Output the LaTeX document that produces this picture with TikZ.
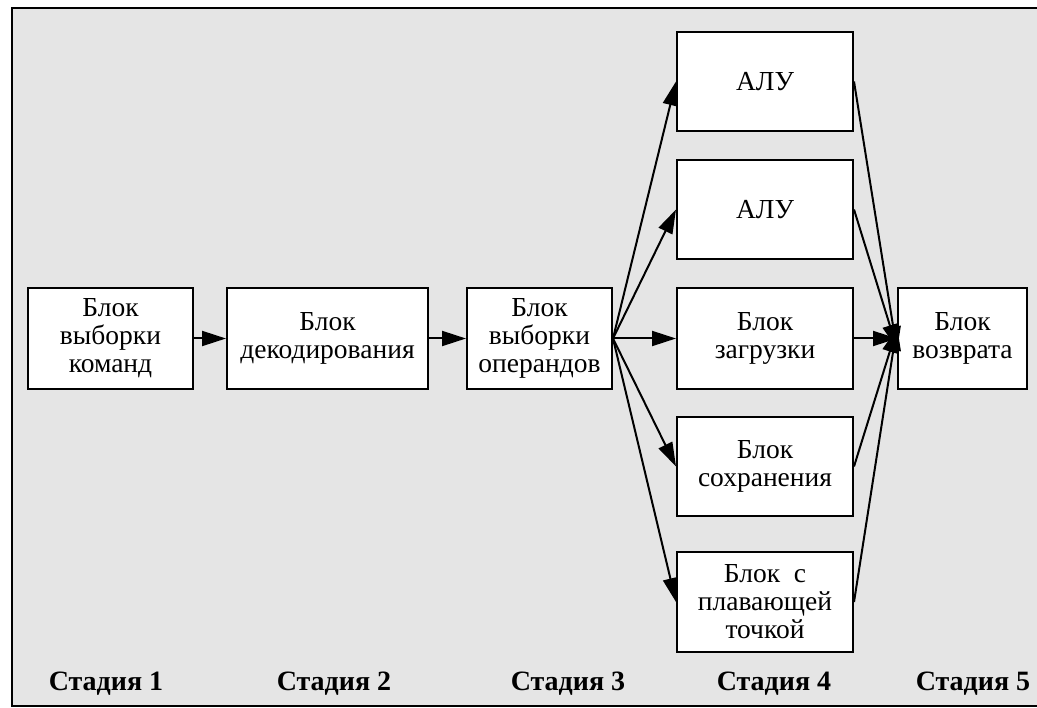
\documentclass[tikz,border=0pt]{standalone}
\usepackage{fontspec}
\setmainfont{Liberation Serif}
\usetikzlibrary{arrows.meta}
\definecolor{bgc}{HTML}{E5E5E5}
\begin{document}
\begin{tikzpicture}[x=1pt,y=-1pt,
  blk/.style={draw=black, fill=white, line width=2pt, align=center, inner sep=0pt,
    font=\fontsize{27.5}{28}\selectfont, minimum height=101pt},
  stg/.style={font=\fontsize{28}{30}\selectfont\bfseries, inner sep=0pt},
  arr/.style={line width=2pt, -{Triangle[length=24pt,width=15pt]}}]
\useasboundingbox (0,0) rectangle (1037,708);
\draw[fill=bgc, line width=2pt] (12,8) rectangle (1050,706);
\node[blk, minimum width=165pt] (b1) at (110.5,338.5) {Блок\\выборки\\команд};
\node[blk, minimum width=201pt] (b2) at (327.5,338.5) {Блок\\декодирования};
\node[blk, minimum width=145pt] (b3) at (539.5,338.5) {Блок\\выборки\\операндов};
\node[blk, minimum width=176pt, minimum height=99pt] (a1) at (765,81.5) {АЛУ};
\node[blk, minimum width=176pt, minimum height=99pt] (a2) at (765,209.5) {АЛУ};
\node[blk, minimum width=176pt] (a3) at (765,338.5) {Блок\\загрузки};
\node[blk, minimum width=176pt, minimum height=99pt] (a4) at (765,466.5) {Блок\\сохранения};
\node[blk, minimum width=176pt, minimum height=100pt] (a5) at (765,602) {Блок\ \ с\\плавающей\\точкой};
\node[blk, minimum width=129pt] (b5) at (962.5,338.5) {Блок\\возврата};
\draw[arr] (b1) -- (b2);
\draw[arr] (b2) -- (b3);
\foreach \n in {a1,a2,a3,a4,a5} \draw[arr] (b3.east) -- (\n.west);
\draw[arr] (a1.east) -- ([yshift=-12pt]b5.west);
\draw[arr] (a2.east) -- ([yshift=-10pt]b5.west);
\draw[arr] (a3.east) -- (b5.west);
\draw[arr] (a4.east) -- ([yshift=10pt]b5.west);
\draw[arr] (a5.east) -- ([yshift=12pt]b5.west);
\node[stg] (s1) at (106,684) {Стадия 1};
\node[stg] (s2) at (334,684) {Стадия 2};
\node[stg] (s3) at (568,684) {Стадия 3};
\node[stg] (s4) at (774,684) {Стадия 4};
\node[stg] (s5) at (973,684) {Стадия 5};
\end{tikzpicture}
\end{document}
